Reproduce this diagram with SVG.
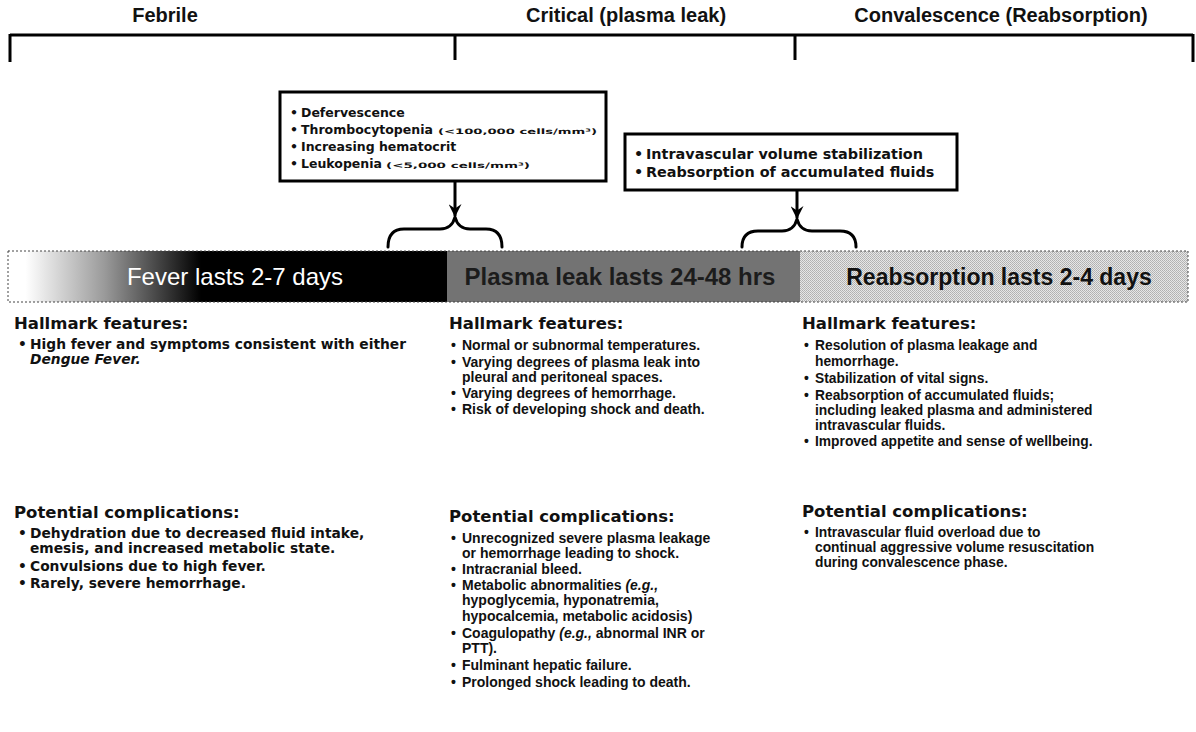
<svg xmlns="http://www.w3.org/2000/svg" width="1196" height="732" viewBox="0 0 1196 732">
<style>
.top{font-family:"Liberation Sans",Arial,sans-serif;font-weight:bold;font-size:20px;fill:#111}
.hd{font-family:"DejaVu Sans",Verdana,sans-serif;font-weight:bold;font-size:16.5px;fill:#111}
.c1{font-family:"DejaVu Sans",Verdana,sans-serif;font-weight:bold;font-size:13.8px;fill:#111}
.c2{font-family:"Liberation Sans",Arial,sans-serif;font-weight:bold;font-size:14px;fill:#111}
.c3{font-family:"Liberation Sans",Arial,sans-serif;font-weight:bold;font-size:13.8px;fill:#111}
.b1{font-family:"DejaVu Sans",Verdana,sans-serif;font-weight:bold;font-size:12.5px;fill:#111}
.b2{font-family:"DejaVu Sans",Verdana,sans-serif;font-weight:bold;font-size:14.4px;fill:#111}
.sm{font-size:7.5px}
.it{font-style:italic}
.box{fill:#fff;stroke:#000;stroke-width:3}
.ln{fill:none;stroke:#000;stroke-width:3}
.br{fill:none;stroke:#000;stroke-width:3;stroke-linecap:round;stroke-linejoin:round}
.bar{font-family:"Liberation Sans",Arial,sans-serif}
</style>
<defs>
<linearGradient id="g1" gradientUnits="userSpaceOnUse" x1="8" y1="0" x2="447" y2="0">
<stop offset="0.04" stop-color="#ffffff"/>
<stop offset="0.22" stop-color="#9a9a9a"/>
<stop offset="0.44" stop-color="#000000"/>
<stop offset="1" stop-color="#000000"/>
</linearGradient>
<pattern id="dith" width="2" height="2" patternUnits="userSpaceOnUse">
<rect width="2" height="2" fill="#e6e6e6"/>
<rect width="1" height="1" fill="#b0b0b0"/>
<rect x="1" y="1" width="1" height="1" fill="#b8b8b8"/>
</pattern>
<marker id="ah" viewBox="0 0 12 12" refX="11" refY="6" markerWidth="13" markerHeight="13" markerUnits="userSpaceOnUse" orient="auto">
<path d="M0,0 L12,6 L0,12 L4,6 z" fill="#000"/>
</marker>
</defs>
<rect width="1196" height="732" fill="#fff"/>

<g id="timeline">
<path class="ln" d="M10,35 H1193 M10,34 V62 M455,34 V60 M795,34 V60 M1193,34 V62"/>
<text class="top" x="165" y="22" text-anchor="middle">Febrile</text>
<text class="top" x="626" y="22" text-anchor="middle">Critical (plasma leak)</text>
<text class="top" x="1001" y="22" text-anchor="middle">Convalescence (Reabsorption)</text>
</g>

<g id="box-critical-signs">
<rect class="box" x="280" y="92" width="326" height="89"/>
<text class="b1" x="290" y="117">•<tspan x="301">Defervescence</tspan></text>
<text class="b1" x="290" y="134">•<tspan x="301">Thrombocytopenia</tspan><tspan class="sm" x="438" textLength="159" lengthAdjust="spacingAndGlyphs">(&lt;100,000 cells/mm³)</tspan></text>
<text class="b1" x="290" y="151">•<tspan x="301">Increasing hematocrit</tspan></text>
<text class="b1" x="290" y="168">•<tspan x="301">Leukopenia</tspan><tspan class="sm" x="386" textLength="144" lengthAdjust="spacingAndGlyphs">(&lt;5,000 cells/mm³)</tspan></text>
</g>

<g id="box-convalescence-signs">
<rect class="box" x="625" y="134" width="332" height="56"/>
<text class="b2" x="634" y="159">•<tspan x="646">Intravascular volume stabilization</tspan></text>
<text class="b2" x="634" y="177">•<tspan x="646">Reabsorption of accumulated fluids</tspan></text>
</g>

<g id="connectors">
<line class="ln" x1="455" y1="181" x2="455" y2="216" marker-end="url(#ah)"/>
<path class="br" d="M388,247 Q388,229 404,229 H440 Q452,229 455,217 Q458,229 470,229 H486 Q502,229 502,247"/>
<line class="ln" x1="797" y1="190" x2="797" y2="218" marker-end="url(#ah)"/>
<path class="br" d="M742,247 Q742,231 758,231 H782 Q794,231 797,219 Q800,231 812,231 H840 Q856,231 856,247"/>
</g>

<g id="phase-bar">
<rect x="8" y="251" width="439" height="51" fill="url(#g1)"/>
<rect x="447" y="251" width="353" height="51" fill="#737373"/>
<rect x="800" y="251" width="388" height="51" fill="url(#dith)"/>
<rect x="8" y="251" width="1180" height="51" fill="none" stroke="#444" stroke-width="1" stroke-dasharray="2 2"/>
<text class="bar" x="235" y="285" text-anchor="middle" font-size="24" fill="#fff">Fever lasts 2-7 days</text>
<text class="bar" x="620" y="285" text-anchor="middle" font-size="24" font-weight="bold" fill="#1c1c1c">Plasma leak lasts 24-48 hrs</text>
<text class="bar" x="999" y="285" text-anchor="middle" font-size="23" font-weight="bold" fill="#111">Reabsorption lasts 2-4 days</text>
</g>

<g id="col-febrile">
<text class="hd" x="14" y="329">Hallmark features:</text>
<text class="c1" x="18" y="349">•<tspan x="30">High fever and symptoms consistent with either</tspan></text>
<text class="c1 it" x="30" y="364">Dengue Fever.</text>
<text class="hd" x="14" y="518">Potential complications:</text>
<text class="c1" x="18" y="538">•<tspan x="30">Dehydration due to decreased fluid intake,</tspan></text>
<text class="c1" x="30" y="553">emesis, and increased metabolic state.</text>
<text class="c1" x="18" y="571">•<tspan x="30">Convulsions due to high fever.</tspan></text>
<text class="c1" x="18" y="588">•<tspan x="30">Rarely, severe hemorrhage.</tspan></text>
</g>

<g id="col-critical">
<text class="hd" x="449" y="329">Hallmark features:</text>
<text class="c2" x="451" y="350">•<tspan x="462">Normal or subnormal temperatures.</tspan></text>
<text class="c2" x="451" y="367">•<tspan x="462">Varying degrees of plasma leak into</tspan></text>
<text class="c2" x="462" y="382">pleural and peritoneal spaces.</text>
<text class="c2" x="451" y="398">•<tspan x="462">Varying degrees of hemorrhage.</tspan></text>
<text class="c2" x="451" y="414">•<tspan x="462">Risk of developing shock and death.</tspan></text>
<text class="hd" x="449" y="522">Potential complications:</text>
<text class="c2" x="451" y="543">•<tspan x="462">Unrecognized severe plasma leakage</tspan></text>
<text class="c2" x="462" y="558">or hemorrhage leading to shock.</text>
<text class="c2" x="451" y="574">•<tspan x="462">Intracranial bleed.</tspan></text>
<text class="c2" x="451" y="590">•<tspan x="462">Metabolic abnormalities </tspan><tspan class="it">(e.g.,</tspan></text>
<text class="c2" x="462" y="605">hypoglycemia, hyponatremia,</text>
<text class="c2" x="462" y="621">hypocalcemia, metabolic acidosis)</text>
<text class="c2" x="451" y="638">•<tspan x="462">Coagulopathy </tspan><tspan class="it">(e.g.,</tspan> abnormal INR or</text>
<text class="c2" x="462" y="653">PTT).</text>
<text class="c2" x="451" y="670">•<tspan x="462">Fulminant hepatic failure.</tspan></text>
<text class="c2" x="451" y="687">•<tspan x="462">Prolonged shock leading to death.</tspan></text>
</g>

<g id="col-convalescence">
<text class="hd" x="802" y="329">Hallmark features:</text>
<text class="c3" x="804" y="350">•<tspan x="815">Resolution of plasma leakage and</tspan></text>
<text class="c3" x="815" y="366">hemorrhage.</text>
<text class="c3" x="804" y="383">•<tspan x="815">Stabilization of vital signs.</tspan></text>
<text class="c3" x="804" y="400">•<tspan x="815">Reabsorption of accumulated fluids;</tspan></text>
<text class="c3" x="815" y="415">including leaked plasma and administered</text>
<text class="c3" x="815" y="430">intravascular fluids.</text>
<text class="c3" x="804" y="446">•<tspan x="815">Improved appetite and sense of wellbeing.</tspan></text>
<text class="hd" x="802" y="517">Potential complications:</text>
<text class="c3" x="804" y="537">•<tspan x="815">Intravascular fluid overload due to</tspan></text>
<text class="c3" x="815" y="552">continual aggressive volume resuscitation</text>
<text class="c3" x="815" y="567">during convalescence phase.</text>
</g>
</svg>
